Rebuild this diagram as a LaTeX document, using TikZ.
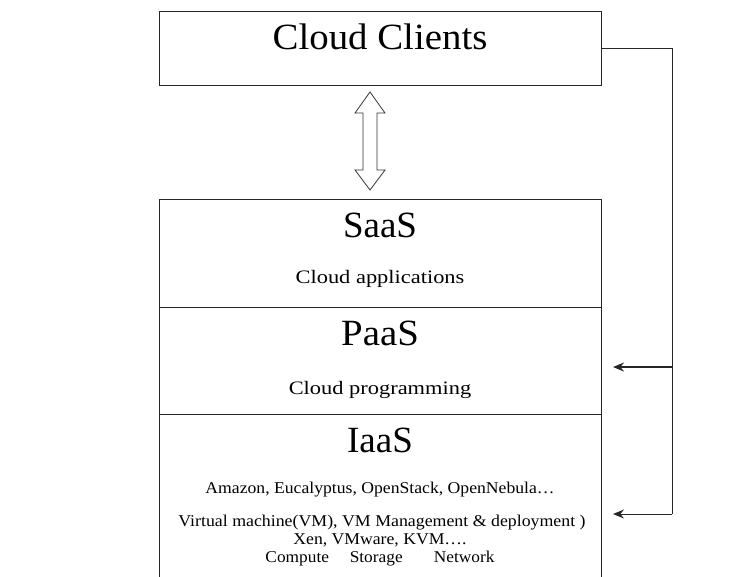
\documentclass[tikz,border=0pt]{standalone}
\usepackage{fontspec}
\setmainfont{Liberation Serif}
\usetikzlibrary{arrows.meta}
\newcommand\sxs[2]{\scalebox{#1}[1]{#2}}
\begin{document}
\begin{tikzpicture}[x=1pt,y=-1pt,
  boxst/.style={draw=black!85,line width=1pt,inner sep=0pt,outer sep=0pt,minimum width=442pt},
  txt/.style={inner sep=0pt,anchor=base},
  big/.style={txt,font=\fontsize{37}{40}\selectfont},
  mid/.style={txt,font=\fontsize{19}{22}\selectfont},
  small/.style={txt,font=\fontsize{16.5}{19}\selectfont},
  link/.style={draw=black!85,line width=1pt},
  tip/.style={-{Stealth[length=11pt,width=9pt]}}]
\useasboundingbox (0,0) rectangle (736,576);
\begin{scope}
\clip (0,0) rectangle (736,576);
% boxes
\node[boxst,minimum height=74pt] (clients) at (380,48) {};
\node[boxst,minimum height=108pt] (saas) at (380,253) {};
\node[boxst,minimum height=107pt] (paas) at (380,360.5) {};
\node[boxst,minimum height=186pt] (iaas) at (380,507) {};
\end{scope}
% texts
\node[big] (tclients) at (380,49) {\sxs{1.05}{Cloud Clients}};
\node[big] (tsaas) at (380,237) {SaaS};
\node[mid] (tsaasd) at (380,283) {\sxs{1.18}{Cloud applications}};
\node[big] (tpaas) at (380,345) {\sxs{1.05}{PaaS}};
\node[mid] (tpaasd) at (380,394) {\sxs{1.18}{Cloud programming}};
\node[big] (tiaas) at (380,452) {IaaS};
\node[small] (ti1) at (380,493) {\sxs{1.07}{Amazon, Eucalyptus, OpenStack, OpenNebula…}};
\node[small] (ti2) at (382,526) {\sxs{1.08}{Virtual machine(VM), VM Management \& deployment )}};
\node[small] (ti3) at (380,544) {\sxs{1.07}{Xen, VMware, KVM….}};
\node[small] (ti4) at (380,562) {\sxs{1.05}{Compute\hspace{1.2em}Storage\hspace{1.8em}Network}};
% double arrow
\coordinate (dtop) at (370,92);
\coordinate (dbot) at (370,190);
\draw[draw=black!80,line width=0.8pt,fill=white,line join=miter]
  (dtop) -- (385,113) -- (377,113) -- (377,170) -- (385,170) -- (dbot)
  -- (355,170) -- (363,170) -- (363,113) -- (355,113) -- cycle;
% right connector
\coordinate (r1) at (672,48);
\coordinate (r2) at (672,514);
\coordinate (r3) at (672,367);
\coordinate (t2) at (613,514);
\coordinate (t3) at (613,367);
\draw[link] (clients.east) -- (r1) -- (r2);
\draw[link,tip] (r2) -- (t2);
\draw[link,line width=2.4pt,tip] (r3) -- (t3);
\end{tikzpicture}
\end{document}
